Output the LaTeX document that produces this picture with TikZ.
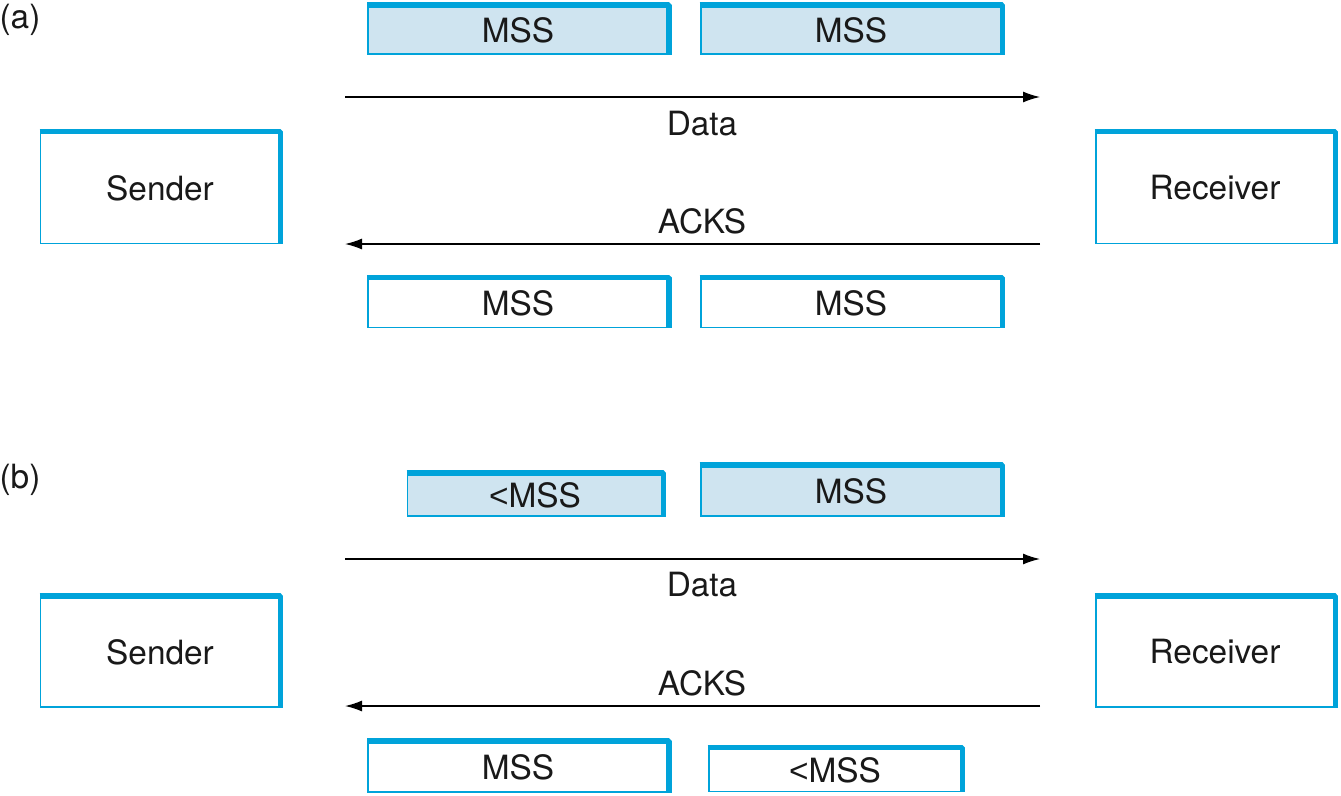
\documentclass[tikz,border=0pt]{standalone}
\usepackage{fontspec}
\setmainfont{TeX Gyre Heros}
\newfontfamily\ltfont{Liberation Sans}
\usetikzlibrary{arrows.meta}
\definecolor{segblue}{HTML}{00A3DA}
\definecolor{segfill}{HTML}{CFE4F0}
\newcommand{\lessmss}{{\ltfont<}MSS}

\begin{document}
\begin{tikzpicture}[x=0.02cm, y=-0.02cm,
  every node/.style={font=\fontsize{19}{22}\selectfont, text=black!90},
  seg/.style={draw=segblue, line width=1.1pt, fill=white, inner sep=0pt},
  segfilled/.style={seg, fill=segfill},
  thickedge/.style={draw=segblue, line width=3.2pt, line join=bevel},
  flow/.style={line width=0.8pt, -{Latex[length=0.34cm,width=0.22cm]}}]
\useasboundingbox (0,0) rectangle (1341,795);

\node at (20,20) {(a)};
\node at (20,480) {(b)};

\node[segfilled, minimum width=6cm, minimum height=0.96cm] (m_1) at (518,30) {MSS};
\node[segfilled, minimum width=6.02cm, minimum height=0.96cm] (m_2) at (851,30) {MSS};
\node[seg, minimum width=6cm, minimum height=0.98cm] (m_3) at (518,303) {MSS};
\node[seg, minimum width=6.02cm, minimum height=0.98cm] (m_4) at (851,303) {MSS};

\node[seg, minimum width=4.78cm, minimum height=2.22cm] (s_a) at (160,188) {Sender};
\node[seg, minimum width=4.78cm, minimum height=2.22cm] (r_a) at (1215,188) {Receiver};

\coordinate (d_1) at (345,97);
\coordinate (d_2) at (1040,97);
\coordinate (k_1) at (1040,244);
\coordinate (k_2) at (345,244);
\draw[flow] (d_1) -- (d_2);
\draw[flow] (k_1) -- (k_2);
\node (data_a) at (702,124) {Data};
\node (acks_a) at (702,221) {ACKS};

\node[segfilled, minimum width=5.1cm, minimum height=0.84cm] (m_5) at (535,495) {\lessmss};
\node[segfilled, minimum width=6.02cm, minimum height=1cm] (m_6) at (851,491) {MSS};
\node[seg, minimum width=6cm, minimum height=1cm] (m_7) at (518,767) {MSS};
\node[seg, minimum width=5.06cm, minimum height=0.86cm] (m_8) at (835,770) {\lessmss};

\node[seg, minimum width=4.78cm, minimum height=2.2cm] (s_b) at (160,652) {Sender};
\node[seg, minimum width=4.78cm, minimum height=2.2cm] (r_b) at (1215,652) {Receiver};

\coordinate (d_3) at (345,559);
\coordinate (d_4) at (1040,559);
\coordinate (k_3) at (1040,706);
\coordinate (k_4) at (345,706);
\draw[flow] (d_3) -- (d_4);
\draw[flow] (k_3) -- (k_4);
\node (data_b) at (702,585) {Data};
\node (acks_b) at (702,683) {ACKS};

\foreach \n in {m_1,m_2,m_3,m_4,m_5,m_6,m_7,m_8,s_a,r_a,s_b,r_b}
  \draw[thickedge] (\n.north west) -- (\n.north east) -- (\n.south east);

\end{tikzpicture}
\end{document}
